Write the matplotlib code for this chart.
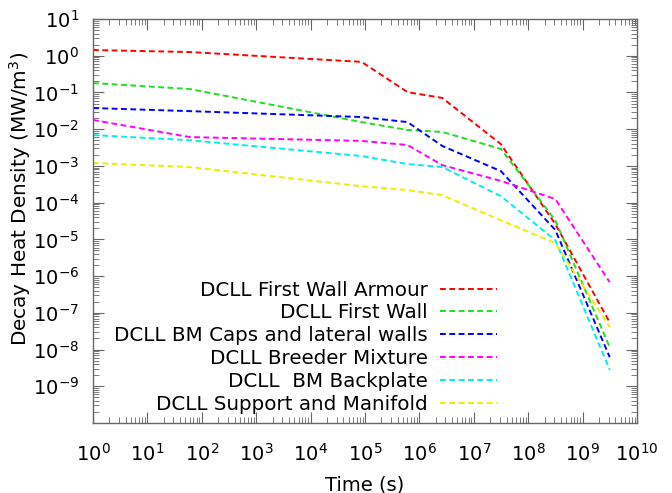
import numpy as np
import matplotlib
matplotlib.use("Agg")
import matplotlib.pyplot as plt
from matplotlib.ticker import LogLocator, NullFormatter

# decay times (s): 1 s, 1 min, 1 day, 1 week, 1 month, 1 y, 10 y, 100 y
times = [1, 60, 8.64e4, 6.05e5, 2.63e6, 3.15e7, 3.15e8, 3.15e9]

fw_armour = [1.43, 1.26, 0.68, 0.102, 0.071, 3.9e-3, 2.6e-5, 5.5e-8]
first_wall = [0.18, 0.124, 0.0156, 9.5e-3, 8.4e-3, 2.9e-3, 3.3e-5, 1.15e-8]
bm_caps = [0.0376, 0.031, 0.0214, 0.0156, 3.5e-3, 7.2e-4, 1.8e-5, 6.2e-9]
breeder = [0.0178, 6.1e-3, 4.8e-3, 3.7e-3, 1.05e-3, 3.9e-4, 1.25e-4, 6.8e-7]
backplate = [6.9e-3, 5.0e-3, 1.86e-3, 1.12e-3, 9.3e-4, 1.5e-4, 9.5e-6, 2.8e-9]
support = [1.2e-3, 9.3e-4, 2.8e-4, 2.2e-4, 1.6e-4, 3.3e-5, 7.9e-6, 4.1e-8]

labels = ["DCLL First Wall Armour", "DCLL First Wall",
          "DCLL BM Caps and lateral walls", "DCLL Breeder Mixture",
          "DCLL  BM Backplate", "DCLL Support and Manifold"]
series = [fw_armour, first_wall, bm_caps, breeder, backplate, support]
colors = ["#ff0000", "#22dd22", "#0000ff", "#ff00ff", "#00eeee", "#eeee00"]

plt.rcParams["axes.unicode_minus"] = False

fig = plt.figure(figsize=(6.72, 4.93), dpi=100)
ax = fig.add_axes([93/672, 1-423/493, (637-93)/672, (423-19)/493])

for y, lab, c in zip(series, labels, colors):
    ax.plot(times, y, color=c, lw=1.4, dashes=(3, 1.8), label=lab)

ax.set_xscale("log")
ax.set_yscale("log")
ax.set_xlim(1, 1e10)
ax.set_ylim(1e-10, 10)
ax.set_xticks([10.0**k for k in range(0, 11)])
ax.set_yticks([10.0**k for k in range(-9, 2)])
ax.xaxis.set_minor_locator(LogLocator(base=10, subs=np.arange(2, 10), numticks=100))
ax.yaxis.set_minor_locator(LogLocator(base=10, subs=np.arange(2, 10), numticks=100))
ax.xaxis.set_minor_formatter(NullFormatter())
ax.yaxis.set_minor_formatter(NullFormatter())

for s in ax.spines.values():
    s.set_color("#666666")
    s.set_linewidth(1.0)
ax.tick_params(which="both", direction="in", top=True, right=True, color="#666666")
ax.tick_params(which="major", length=8, labelsize=14)
ax.tick_params(which="minor", length=4)
ax.tick_params(axis="x", which="major", pad=14)
ax.tick_params(axis="y", which="major", pad=10)

ax.set_xlabel("Time (s)", fontsize=14, labelpad=8)
ax.set_ylabel("Decay Heat Density (MW/m$^3$)", fontsize=14.4)
ax.yaxis.set_label_coords(-0.11, 0.555)

leg = ax.legend(loc="lower right", bbox_to_anchor=(0.7426, 0.0235), frameon=False,
                fontsize=14.3, markerfirst=False, handlelength=2.87,
                labelspacing=0.19, handletextpad=0.6, borderpad=0, borderaxespad=0)
for t in leg.get_texts():
    t.set_ha("right")
leg._legend_box.align = "right"

fig.savefig("out.png", dpi=100)
